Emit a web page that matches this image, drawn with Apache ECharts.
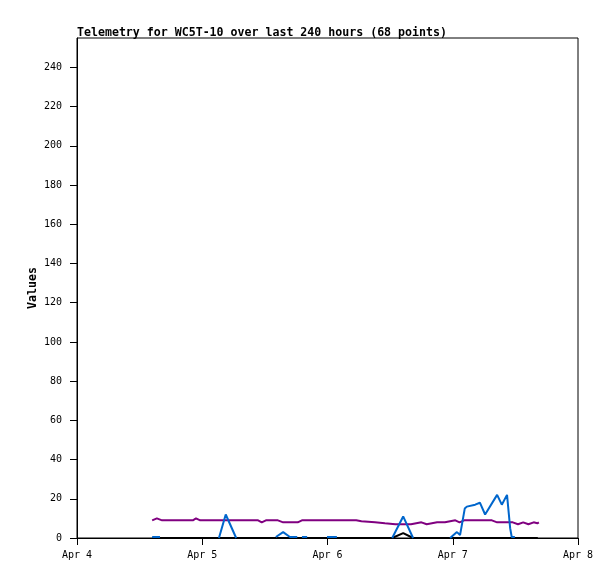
<!DOCTYPE html>
<html>
<head>
<meta charset="utf-8">
<script src="https://cdn.jsdelivr.net/npm/echarts@6/dist/echarts.min.js"></script>
<style>html,body{margin:0;padding:0;background:#fff}#c{width:615px;height:579px}</style>
</head>
<body>
<div id="c"></div>
<script>
// x values are hours since Apr 4 00:00
const xTickValues = [0, 24, 48, 72, 96];
const xTickLabels = ['Apr 4', 'Apr 5', 'Apr 6', 'Apr 7', 'Apr 8'];
const yTicks = [0, 20, 40, 60, 80, 100, 120, 140, 160, 180, 200, 220, 240];

const purpleSeries = [
  [14.4, 9], [15.3, 10], [16.3, 9], [22.2, 9], [22.8, 10], [23.6, 9], [34.7, 9], [35.4, 8], [36.2, 9],
  [38.5, 9], [39.5, 8], [42.3, 8], [43.1, 9], [53.5, 9], [54.5, 8.5], [57.1, 8], [59, 7.5], [61, 7],
  [64, 7], [65, 7.5], [66, 8], [67, 7], [68, 7.5], [69, 8], [70.5, 8], [71.5, 8.5], [72.5, 9], [73.3, 8],
  [74.2, 9], [76, 9], [79.5, 9], [80.5, 8], [83.5, 8], [84.5, 7], [85.5, 8], [86.5, 7], [87.5, 8],
  [88.2, 7.5], [88.5, 8]
];
const blueSeries = [
  [14.4, 0.5], [15.9, 0.5], [16.5, null],
  [27.2, 0], [28.5, 12], [30.5, 0], [31, null],
  [38.1, 0.5], [39.5, 3], [40.8, 0.5], [42.2, 0.5], [42.6, null],
  [43.1, 0.5], [44.1, 0.5], [44.5, null],
  [47.9, 0.5], [49.8, 0.5], [50.2, null],
  [60.4, 0], [62.5, 11], [64.4, 0], [64.8, null],
  [71.5, 0], [72.8, 3], [73.4, 1.5], [74.3, 15], [74.7, 16], [76.3, 17], [77.2, 18], [78.2, 12],
  [80.5, 22], [81.4, 17], [82.4, 22], [83.0, 5], [83.3, 0.5], [83.9, 0.5]
];
const blackSeries = [
  [14.4, 0], [60.4, 0], [62.5, 2.5], [64.4, 0], [88.3, 0]
];

const mono = 'DejaVu Sans Mono';
const chart = echarts.init(document.getElementById('c'), null, {renderer: 'canvas'});
chart.setOption({
  animation: false,
  backgroundColor: '#fff',
  title: {
    text: 'Telemetry for WC5T-10 over last 240 hours (68 points)',
    left: 72, top: 22,
    textStyle: {fontFamily: mono, fontSize: 11.6, fontWeight: 'bold', color: '#000'}
  },
  grid: {left: 77, top: 38, width: 501, height: 500, show: true, borderColor: '#000', borderWidth: 1, backgroundColor: 'transparent'},
  xAxis: {
    type: 'value', min: 0, max: 96, interval: 24,
    splitLine: {show: false},
    axisLine: {show: true, lineStyle: {color: '#000', width: 1}},
    axisTick: {show: true, length: 7, customValues: xTickValues, lineStyle: {color: '#000'}},
    axisLabel: {
      customValues: xTickValues, margin: 12, color: '#000', fontFamily: mono, fontSize: 10,
      formatter: v => xTickLabels[xTickValues.indexOf(v)]
    }
  },
  yAxis: {
    type: 'value', min: 0, max: 255, interval: 20,
    name: 'Values', nameLocation: 'middle', nameGap: 38, nameRotate: 90, nameMoveOverlap: false,
    nameTextStyle: {fontFamily: mono, fontSize: 11.6, fontWeight: 'bold', color: '#000'},
    splitLine: {show: false},
    axisLine: {show: true, lineStyle: {color: '#000', width: 1}},
    axisTick: {show: true, length: 7, customValues: yTicks, lineStyle: {color: '#000'}},
    axisLabel: {customValues: yTicks, margin: 15, color: '#000', fontFamily: mono, fontSize: 10}
  },
  series: [
    {type: 'line', data: purpleSeries, showSymbol: false, symbol: 'none', lineStyle: {color: '#800080', width: 2}, z: 2},
    {type: 'line', data: blackSeries, showSymbol: false, symbol: 'none', lineStyle: {color: '#000000', width: 2}, z: 3},
    {type: 'line', data: blueSeries, showSymbol: false, symbol: 'none', connectNulls: false, lineStyle: {color: '#0066cc', width: 2}, z: 4}
  ]
});
</script>
</body>
</html>
